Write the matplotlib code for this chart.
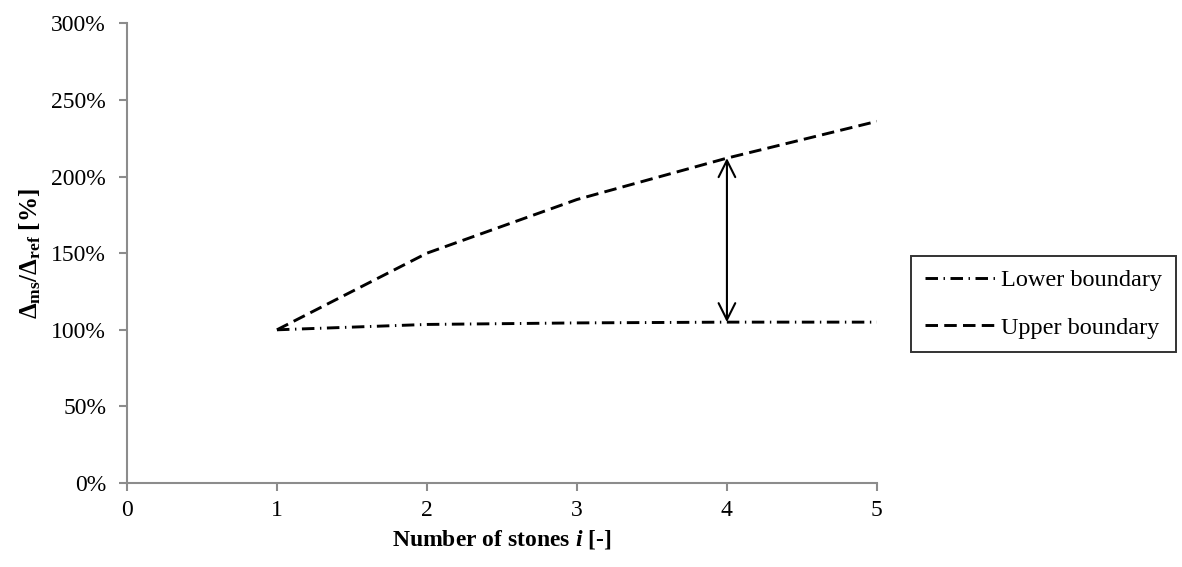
import matplotlib
matplotlib.use("Agg")
import matplotlib.pyplot as plt
from matplotlib.ticker import FuncFormatter

plt.rcParams['font.family'] = ['Liberation Serif', 'DejaVu Serif']
plt.rcParams['mathtext.fontset'] = 'custom'
plt.rcParams['mathtext.rm'] = 'Liberation Serif'
plt.rcParams['mathtext.bf'] = 'Liberation Serif:bold'
plt.rcParams['mathtext.it'] = 'Liberation Serif:italic:bold'
plt.rcParams['lines.scale_dashes'] = False

# data
stones = [1, 2, 3, 4, 5]
lower = [100, 103.5, 104.5, 105, 105]
upper = [100, 150, 185, 212, 236]
arrow_x = 4
y_ticks = [0, 50, 100, 150, 200, 250, 300]
x_ticks = [0, 1, 2, 3, 4, 5]

fig = plt.figure(figsize=(11.82, 5.67), dpi=100)
ax = fig.add_axes([0.1074, 0.148, 0.6345, 0.811])

grey = '#8c8c8c'
l1, = ax.plot(stones, lower, color='black', lw=2.1, dashes=(9, 4, 1, 4),
              label='Lower boundary')
l2, = ax.plot(stones, upper, color='black', lw=2.1, dashes=(9, 4.5),
              label='Upper boundary')

# double arrow between the two boundaries
ax.annotate('', xy=(arrow_x, upper[stones.index(arrow_x)]),
            xytext=(arrow_x, lower[stones.index(arrow_x)]),
            arrowprops=dict(arrowstyle='<->', color='black', lw=1.5,
                            mutation_scale=30, shrinkA=0, shrinkB=0))

ax.set_xlim(0, 5)
ax.set_ylim(0, 300)
ax.set_xticks(x_ticks)
ax.set_yticks(y_ticks)
ax.yaxis.set_major_formatter(FuncFormatter(lambda v, p: f'{v:.0f}%'))

for s in ['top', 'right']:
    ax.spines[s].set_visible(False)
for s in ['left', 'bottom']:
    ax.spines[s].set_color(grey)
    ax.spines[s].set_linewidth(1.5)
ax.tick_params(axis='both', color=grey, width=1.5, length=6, labelsize=17,
               direction='out', pad=9)
ax.tick_params(axis='x', pad=6)

ax.set_xlabel(r'Number of stones $i$ [-]', fontsize=17, fontweight='bold',
              labelpad=5)
ax.set_ylabel(r'$\mathbf{\Delta_{ms}/\Delta_{ref}}$ [%]', fontsize=18,
              fontweight='bold', labelpad=6)

leg = fig.legend(handles=[l1, l2], loc='upper left',
                 bbox_to_anchor=(0.771, 0.549), fontsize=17.5, frameon=True,
                 fancybox=False, edgecolor='black', handlelength=3.0,
                 handletextpad=0.15, borderpad=0.55, labelspacing=1.05,
                 borderaxespad=0)
leg.get_frame().set_linewidth(1.4)

fig.savefig('out.png', dpi=100)
